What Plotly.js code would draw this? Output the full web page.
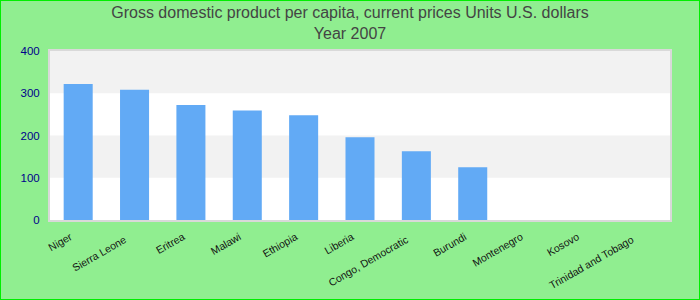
<!DOCTYPE html>
<html>
<head>
<meta charset="utf-8">
<script src="https://cdn.plot.ly/plotly-3.0.1.min.js"></script>
<style>
html,body{margin:0;padding:0;background:#90ee90;}
#chart{width:700px;height:300px;box-sizing:border-box;border:1px solid #00ee00;}
</style>
</head>
<body>
<div id="chart"></div>
<script>
const countries = ["Niger","Sierra Leone","Eritrea","Malawi","Ethiopia","Liberia","Congo, Democratic","Burundi","Montenegro","Kosovo","Trinidad and Tobago"];
const gdpPerCapita = [322, 308, 272, 259, 248, 196, 163, 125, null, null, null];
const yTicks = [0, 100, 200, 300, 400];
// labels drawn one step lower (staggered) in the reference
const staggered = ["Sierra Leone","Congo, Democratic","Trinidad and Tobago"];

const bands = [];
for (let i = 0; i < yTicks.length - 1; i++) {
  if (i % 2 === 1) {
    bands.push({type:'rect', xref:'paper', yref:'y', x0:0, x1:1, y0:yTicks[i], y1:yTicks[i+1], fillcolor:'#f2f2f2', line:{width:0}, layer:'below'});
  }
}

const idx = countries.map((c, i) => i);
const mainText = countries.map(c => staggered.includes(c) ? '' : c);
const stagVals = idx.filter(i => staggered.includes(countries[i]));
const stagText = stagVals.map(i => countries[i]);

Plotly.newPlot('chart', [{
  type:'bar', x:countries, y:gdpPerCapita,
  marker:{color:'#62aaf5'}, hoverinfo:'x+y'
}, {
  // empty carrier so the second (staggered-label) x axis is drawn
  type:'scatter', mode:'none', x:[], y:[], xaxis:'x2', yaxis:'y', hoverinfo:'skip', showlegend:false
}], {
  width:698, height:298,
  paper_bgcolor:'#90ee90', plot_bgcolor:'#ffffff',
  font:{family:'"Liberation Sans", Arial, sans-serif'},
  title:{text:'Gross domestic product per capita, current prices Units U.S. dollars<br>Year 2007', x:0.5, xanchor:'center', y:0.943, yanchor:'top', font:{size:16, color:'#444444'}},
  margin:{l:49, r:29, t:50, b:79},
  bargap:0.485,
  xaxis:{type:'category', tickangle:-30, tickvals:countries, ticktext:mainText, tickfont:{size:10.5, color:'#111111'}, showline:true, linecolor:'#d9d9d9', linewidth:2, mirror:true, ticks:'', range:[-0.5,10.5], ticklabelshift:-8, ticklabelstandoff:5},
  xaxis2:{overlaying:'x', anchor:'y', side:'bottom', type:'linear', range:[-0.5,10.5], autorange:false, tickmode:'array', tickvals:stagVals, ticktext:stagText, tickangle:-30, tickfont:{size:10.5, color:'#111111'}, showgrid:false, zeroline:false, showline:false, ticks:'', ticklabelshift:-10, ticklabelstandoff:11},
  yaxis:{range:[0,400], tickvals:yTicks, tickfont:{size:11.5, color:'#00008b'}, showgrid:false, zeroline:false, showline:true, linecolor:'#d9d9d9', linewidth:2, mirror:true, ticks:'', ticklabelstandoff:6},
  shapes:bands,
  showlegend:false
}, {displayModeBar:false, staticPlot:true});
</script>
</body>
</html>
